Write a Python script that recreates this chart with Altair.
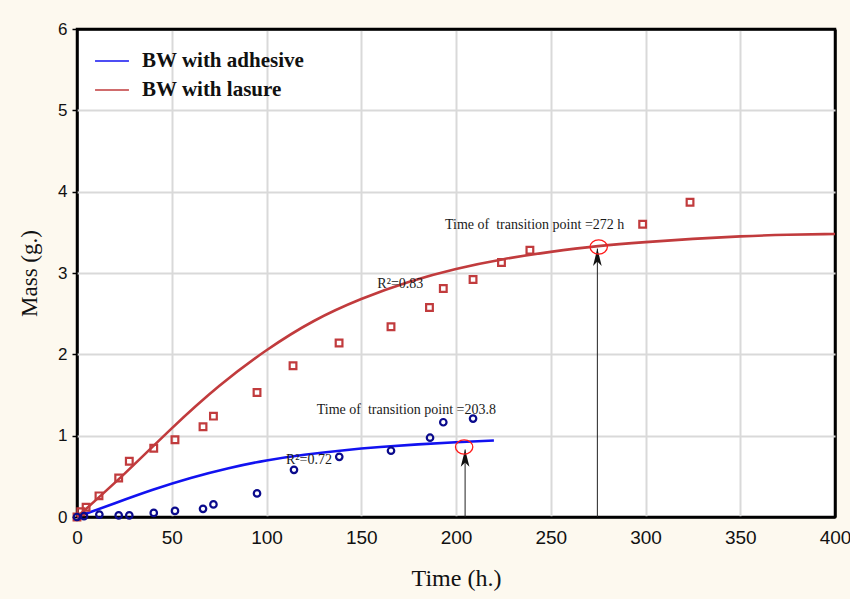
import altair as alt
import pandas as pd

lasure_t = [0, 2, 4.8, 11.6, 22, 27.6, 40.5, 51.7, 66.5, 72, 95, 114, 138.3, 165.7, 186, 193.3, 209, 224, 239, 298.5, 323.5]
lasure_m = [0.0, 0.065, 0.12, 0.26, 0.48, 0.685, 0.845, 0.95, 1.11, 1.24, 1.53, 1.86, 2.14, 2.34, 2.575, 2.81, 2.92, 3.13, 3.28, 3.60, 3.87]

adh_t = [0, 3.7, 11.8, 22, 27.6, 40.5, 51.7, 66.5, 72, 95, 114.5, 138.4, 165.7, 186.3, 193.3, 209]
adh_m = [0.0, 0.01, 0.03, 0.02, 0.02, 0.05, 0.075, 0.10, 0.155, 0.29, 0.58, 0.74, 0.815, 0.975, 1.165, 1.21]

# fitted curves
fit_l_t = [0, 25, 50, 75, 100, 125, 150, 175, 200, 225, 250, 275, 300, 325, 350, 375, 400]
fit_l_m = [0, 0.53, 1.09, 1.61, 2.05, 2.41, 2.68, 2.89, 3.05, 3.17, 3.26, 3.33, 3.38, 3.42, 3.45, 3.47, 3.48]
fit_a_t = [0, 20, 40, 60, 80, 100, 120, 140, 160, 180, 200, 220]
fit_a_m = [0, 0.17, 0.335, 0.48, 0.60, 0.695, 0.765, 0.818, 0.86, 0.893, 0.92, 0.94]

series_names = ["BW with adhesive", "BW with lasure"]
series_colors = ["#1212f0", "#c13b3d"]

# transition points
trans_t = [204.3, 275.3]
trans_m = [0.86, 3.32]
arrow_t = [204.8, 274.6]
arrow_base = [0.0, 0.0]
arrow_tip = [0.83, 3.30]

ann_text = ["Time of \u00a0transition point =272 h", "Time of \u00a0transition point =203.8", "R\u00b2=0.83", "R\u00b2=0.72"]
ann_t = [194.2, 126.5, 158.5, 110.3]
ann_m = [3.59, 1.316, 2.87, 0.70]

x_ticks = [0, 50, 100, 150, 200, 250, 300, 350, 400]
y_ticks = [0, 1, 2, 3, 4, 5, 6]

# ---- tables ----
curves = pd.concat([
    pd.DataFrame({"t": fit_a_t, "m": fit_a_m, "series": series_names[0]}),
    pd.DataFrame({"t": fit_l_t, "m": fit_l_m, "series": series_names[1]}),
])
las = pd.DataFrame({"t": lasure_t, "m": lasure_m})
adh = pd.DataFrame({"t": adh_t, "m": adh_m})
trans = pd.DataFrame({"t": trans_t, "m": trans_m})
arrows = pd.DataFrame({"t": arrow_t, "b": arrow_base, "tip": arrow_tip})
ann = pd.DataFrame({"t": ann_t, "m": ann_m, "label": ann_text})

xs = alt.Scale(domain=[0, 400], nice=False)
ys = alt.Scale(domain=[0, 6], nice=False)

x_grid_color = {"condition": {"test": "datum.value == 0 || datum.value == 400", "value": "black"}, "value": "#d9d9d9"}
x_grid_width = {"condition": {"test": "datum.value == 0 || datum.value == 400", "value": 2.5}, "value": 2}
y_grid_color = {"condition": {"test": "datum.value == 0 || datum.value == 6", "value": "black"}, "value": "#d9d9d9"}
y_grid_width = {"condition": {"test": "datum.value == 0 || datum.value == 6", "value": 2.5}, "value": 2}

X = alt.X("t:Q", scale=xs, axis=alt.Axis(values=x_ticks, title="Time (h.)", ticks=False, format="d",
                                         labelFontSize=19, labelPadding=11, labelFlush=False,
                                         gridColor=x_grid_color, gridWidth=x_grid_width,
                                         titleFontSize=24, titlePadding=19))
Y = alt.Y("m:Q", scale=ys, axis=alt.Axis(values=y_ticks, title="Mass (g.)", format="d",
                                         labelFontSize=17, labelPadding=5, tickSize=5, labelFlush=False,
                                         gridColor=y_grid_color, gridWidth=y_grid_width,
                                         titleFontSize=23, titlePadding=16))

curve_layer = alt.Chart(curves).mark_line(strokeWidth=2.6, interpolate="natural").encode(
    x=X, y=Y,
    color=alt.Color("series:N", scale=alt.Scale(domain=series_names, range=series_colors),
                    legend=alt.Legend(title=None, orient="none", legendX=17, legendY=14,
                                      symbolType="stroke", symbolSize=1150, symbolStrokeWidth=1.5,
                                      labelFont="Liberation Serif", labelFontSize=21,
                                      labelFontWeight="bold", labelColor="#111", labelLimit=400,
                                      labelOffset=12, rowPadding=1)),
    detail="series:N",
)

las_layer = alt.Chart(las).mark_point(shape="square", filled=False, size=45, strokeWidth=2.2,
                                      color="#c13b3d", opacity=1).encode(x="t:Q", y="m:Q")
adh_layer = alt.Chart(adh).mark_point(shape="circle", filled=False, size=42, strokeWidth=2.2,
                                      color="#0a0a8c", opacity=1).encode(x="t:Q", y="m:Q")

arrow_lines = alt.Chart(arrows).mark_rule(color="#222", strokeWidth=1).encode(
    x="t:Q", y="b:Q", y2="tip:Q")
arrow_heads = alt.Chart(arrows).mark_point(
    shape="M0,0L0.5,2L0,1.5L-0.5,2Z", filled=True, size=300, color="#111", opacity=1
).encode(x="t:Q", y="tip:Q")

ellipses = alt.Chart(trans).mark_point(
    shape="M-1,0A1,0.82 0 1,0 1,0A1,0.82 0 1,0 -1,0Z", filled=False, size=300,
    strokeWidth=1.3, color="#ff1a1a", opacity=1
).encode(x="t:Q", y="m:Q")

texts = alt.Chart(ann).mark_text(align="left", baseline="middle", font="Liberation Serif",
                                 fontSize=14, color="#1a1a1a").encode(
    x="t:Q", y="m:Q", text="label:N")

chart = alt.layer(curve_layer, las_layer, adh_layer, arrow_lines, arrow_heads, ellipses, texts).properties(
    width=758, height=488,
    autosize=alt.AutoSizeParams(type="none"),
    padding={"left": 77, "top": 29, "right": 15, "bottom": 82},
    background="#fdf9ef",
).configure_view(
    fill="white", stroke="black", strokeWidth=2.5,
).configure_axis(
    grid=True, domain=False,
    tickColor="black", tickWidth=1.5,
    labelFont="Liberation Sans", labelColor="#111",
    titleFont="Liberation Serif", titleFontWeight="normal", titleColor="#111",
)

chart.save("out.html", embed_options={"renderer": "svg", "actions": False})
